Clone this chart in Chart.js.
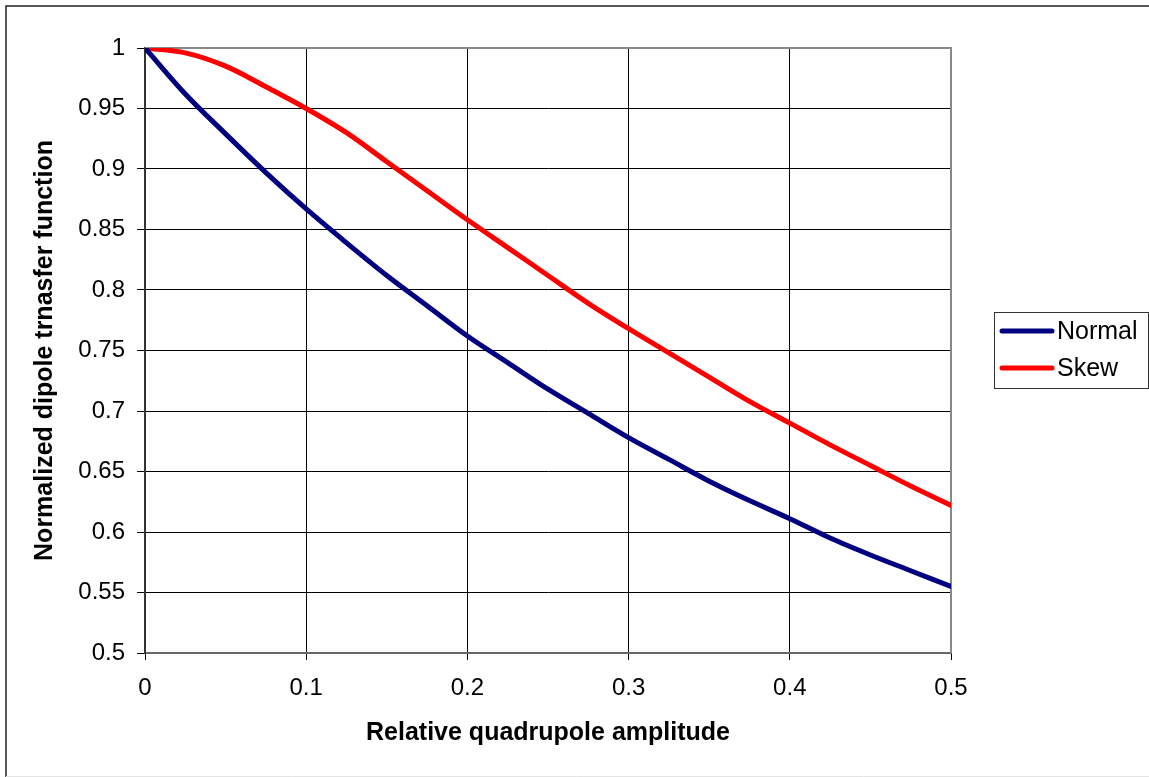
<!DOCTYPE html>
<html>
<head>
<meta charset="utf-8">
<title>Normalized dipole transfer function</title>
<script src="https://cdn.jsdelivr.net/npm/chart.js@4.4.1/dist/chart.umd.min.js"></script>
<style>
  html, body { margin: 0; padding: 0; background: #fff; }
  #wrap { width: 1149px; height: 777px; position: relative; }
</style>
</head>
<body>
<div id="wrap"><canvas id="chart" width="1149" height="777"></canvas></div>
<script>
const xValues = [0, 0.025, 0.05, 0.075, 0.1, 0.125, 0.15, 0.175, 0.2, 0.225, 0.25,
  0.275, 0.3, 0.325, 0.35, 0.375, 0.4, 0.425, 0.45, 0.475, 0.5];
const normalValues = [1.0, 0.962, 0.929, 0.897, 0.867, 0.839, 0.812, 0.787, 0.762, 0.740, 0.718,
  0.698, 0.678, 0.660, 0.642, 0.626, 0.611, 0.595, 0.581, 0.568, 0.555];
const skewValues = [1.0, 0.996, 0.985, 0.968, 0.950, 0.930, 0.906, 0.882, 0.858, 0.835, 0.812,
  0.789, 0.768, 0.748, 0.728, 0.708, 0.690, 0.672, 0.655, 0.638, 0.622];
const seriesNames = ["Normal", "Skew"];
const seriesColors = ["#000080", "#FF0000"];
const xTickLabels = ["0", "0.1", "0.2", "0.3", "0.4", "0.5"];
const yTickLabels = ["0.5", "0.55", "0.6", "0.65", "0.7", "0.75", "0.8", "0.85", "0.9", "0.95", "1"];

Chart.defaults.font.family = "'Liberation Sans', Arial, sans-serif";
Chart.defaults.color = "#000";

const toPoints = (ys) => xValues.map((x, i) => ({ x: x, y: ys[i] }));

// plot frame (top/right gray edges) and the outer chart border
const framePlugin = {
  id: "frame",
  beforeDraw(chart) {
    const ctx = chart.ctx;
    ctx.save();
    ctx.fillStyle = "#fff";
    ctx.fillRect(0, 0, chart.width, chart.height);
    ctx.strokeStyle = "#222";
    ctx.lineWidth = 1.5;
    ctx.beginPath();
    ctx.moveTo(6, chart.height);
    ctx.lineTo(6, 6);
    ctx.lineTo(chart.width, 6);
    ctx.stroke();
    ctx.strokeStyle = "#e4e4e4";
    ctx.lineWidth = 1;
    ctx.beginPath();
    ctx.moveTo(6, 776.5);
    ctx.lineTo(chart.width, 776.5);
    ctx.stroke();
    ctx.restore();
  },
  beforeDatasetsDraw(chart) {
    const { ctx, chartArea: a } = chart;
    ctx.save();
    ctx.strokeStyle = "#888";
    ctx.lineWidth = 2;
    ctx.beginPath();
    ctx.moveTo(a.left, a.top);
    ctx.lineTo(a.right, a.top);
    ctx.lineTo(a.right, a.bottom);
    ctx.stroke();
    ctx.restore();
  },
};

// boxed legend to the right of the plot
const legendBoxPlugin = {
  id: "legendBox",
  afterDraw(chart) {
    const ctx = chart.ctx;
    const left = 994, top = 312, right = 1148, bottom = 388;
    ctx.save();
    ctx.strokeStyle = "#333";
    ctx.lineWidth = 1;
    ctx.strokeRect(left + 0.5, top + 0.5, right - left, bottom - top);
    ctx.font = "25px 'Liberation Sans', Arial, sans-serif";
    ctx.textBaseline = "middle";
    ctx.textAlign = "left";
    chart.data.datasets.forEach((ds, i) => {
      const y = 331 + i * 37;
      ctx.strokeStyle = ds.borderColor;
      ctx.lineWidth = 5;
      ctx.lineCap = "round";
      ctx.beginPath();
      ctx.moveTo(1002, y);
      ctx.lineTo(1052, y);
      ctx.stroke();
      ctx.fillStyle = "#000";
      ctx.fillText(ds.label, 1057, y + 1);
    });
    ctx.restore();
  },
};

new Chart(document.getElementById("chart"), {
  type: "line",
  data: {
    datasets: [
      {
        label: seriesNames[0],
        data: toPoints(normalValues),
        borderColor: seriesColors[0],
        backgroundColor: seriesColors[0],
      },
      {
        label: seriesNames[1],
        data: toPoints(skewValues),
        borderColor: seriesColors[1],
        backgroundColor: seriesColors[1],
      },
    ],
  },
  plugins: [framePlugin, legendBoxPlugin],
  options: {
    responsive: false,
    animation: false,
    devicePixelRatio: 1,
    layout: { padding: { top: 48, right: 198, left: 0, bottom: 0 } },
    elements: {
      line: { borderWidth: 5, cubicInterpolationMode: "monotone", borderCapStyle: "round" },
      point: { radius: 0 },
    },
    plugins: {
      legend: { display: false },
      tooltip: { enabled: false },
    },
    scales: {
      x: {
        type: "linear",
        min: 0,
        max: 0.5,
        afterFit: (scale) => { scale.height = 124; },
        ticks: {
          stepSize: 0.1,
          font: { size: 24 },
          padding: 14,
          maxRotation: 0,
          callback: (v, i) => xTickLabels[i],
        },
        grid: { color: "#000", lineWidth: 1, tickLength: 7 },
        border: { color: "#666", width: 2 },
        title: {
          display: true,
          text: "Relative quadrupole amplitude",
          font: { size: 25, weight: "bold" },
          padding: { top: 0, bottom: 29 },
        },
      },
      y: {
        type: "linear",
        min: 0.5,
        max: 1,
        afterFit: (scale) => { scale.width = 145; },
        ticks: {
          stepSize: 0.05,
          font: { size: 24 },
          padding: 12,
          callback: (v, i) => yTickLabels[i],
        },
        grid: { color: "#000", lineWidth: 1, tickLength: 8 },
        border: { color: "#333", width: 2 },
        title: {
          display: true,
          text: "Normalized dipole trnasfer function",
          font: { size: 25, weight: "bold" },
          padding: { top: 30, bottom: 0 },
        },
      },
    },
  },
});
</script>
</body>
</html>
